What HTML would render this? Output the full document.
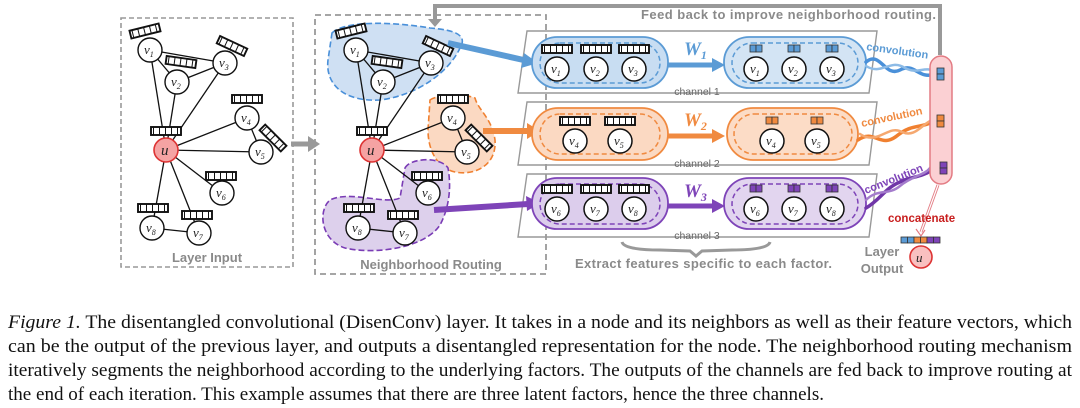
<!DOCTYPE html>
<html><head><meta charset="utf-8"><style>
html,body{margin:0;padding:0;background:#fff;}
svg{display:block;}
.lbl{font-family:"Liberation Sans",sans-serif;font-weight:bold;fill:#8a8a8a;}
.nv{font-family:"Liberation Serif",serif;font-style:italic;font-size:13px;fill:#222;}
.cap{font-family:"Liberation Serif",serif;font-size:19px;fill:#111;}
</style></head><body>
<svg width="1080" height="408" viewBox="0 0 1080 408" xmlns="http://www.w3.org/2000/svg">
<defs>
<pattern id="cells" x="0" y="0" width="6" height="8" patternUnits="userSpaceOnUse">
<rect width="6" height="8" fill="#fff"/><rect x="5" width="1.6" height="8" fill="#111"/>
</pattern>
<g id="bar"><rect x="-15" y="-4" width="30" height="8" fill="url(#cells)" stroke="#111" stroke-width="1.9"/></g>
</defs>

<!-- Layer Input box -->
<rect x="121" y="18" width="172" height="249" fill="none" stroke="#999" stroke-width="1.6" stroke-dasharray="5,3"/>
<text class="lbl" x="207" y="262" font-size="13" text-anchor="middle">Layer Input</text>

<g stroke="#111" stroke-width="1.3">
<line x1="150" y1="50" x2="166" y2="150"/><line x1="150" y1="50" x2="177" y2="82"/><line x1="150" y1="50" x2="225" y2="63"/>
<line x1="177" y1="82" x2="166" y2="150"/><line x1="177" y1="82" x2="225" y2="63"/><line x1="225" y1="63" x2="166" y2="150"/>
<line x1="166" y1="150" x2="247" y2="118"/><line x1="166" y1="150" x2="261" y2="152"/><line x1="247" y1="118" x2="261" y2="152"/>
<line x1="166" y1="150" x2="222" y2="193"/><line x1="166" y1="150" x2="152" y2="228"/><line x1="166" y1="150" x2="199" y2="233"/>
<line x1="152" y1="228" x2="199" y2="233"/>
</g>
<g fill="#fff" stroke="#111" stroke-width="1.4">
<circle cx="150" cy="50" r="12"/><circle cx="177" cy="82" r="12"/><circle cx="225" cy="63" r="12"/>
<circle cx="247" cy="118" r="12"/><circle cx="261" cy="152" r="12"/><circle cx="222" cy="193" r="12"/>
<circle cx="152" cy="228" r="12"/><circle cx="199" cy="233" r="12"/>
</g>
<circle cx="166" cy="150" r="12" fill="#f5a3a3" stroke="#d33" stroke-width="1.6"/>
<use href="#bar" transform="translate(145,31) rotate(-14)"/><use href="#bar" transform="translate(181,62) rotate(8)"/>
<use href="#bar" transform="translate(232,46) rotate(25)"/><use href="#bar" transform="translate(247,99)"/>
<use href="#bar" transform="translate(273,138) rotate(45)"/><use href="#bar" transform="translate(166,131)"/>
<use href="#bar" transform="translate(221,176)"/><use href="#bar" transform="translate(153,208)"/><use href="#bar" transform="translate(197,215)"/>
<g class="nv">
<text x="144" y="54">v<tspan font-size="8" dy="3">1</tspan></text><text x="171" y="86">v<tspan font-size="8" dy="3">2</tspan></text>
<text x="219" y="67">v<tspan font-size="8" dy="3">3</tspan></text><text x="241" y="122">v<tspan font-size="8" dy="3">4</tspan></text>
<text x="255" y="156">v<tspan font-size="8" dy="3">5</tspan></text><text x="216" y="197">v<tspan font-size="8" dy="3">6</tspan></text>
<text x="146" y="232">v<tspan font-size="8" dy="3">8</tspan></text><text x="193" y="237">v<tspan font-size="8" dy="3">7</tspan></text>
<text x="161" y="155" font-size="15">u</text>
</g>

<line x1="291" y1="144" x2="310" y2="144" stroke="#999" stroke-width="5"/>
<path d="M308,136 L320,144 L308,152z" fill="#999"/>

<rect x="315" y="15" width="231" height="259" fill="none" stroke="#999" stroke-width="1.8" stroke-dasharray="6,4"/>
<text class="lbl" x="431" y="269" font-size="13" text-anchor="middle">Neighborhood Routing</text>

<path d="M332,33 C345,20 395,22 430,28 C455,30 468,35 460,48 C450,70 420,95 380,100 C345,102 325,85 328,60 Z" fill="#cfe0f3" stroke="#4a90d9" stroke-width="1.6" stroke-dasharray="6,3"/>
<path d="M430,100 C440,93 470,95 475,98 C478,110 492,118 495,140 C497,165 475,176 455,172 C437,168 428,150 428,130 Z" fill="#fbd9c2" stroke="#f08030" stroke-width="1.6" stroke-dasharray="6,3"/>
<path d="M405,168 C410,158 440,156 448,168 C452,190 448,210 440,225 C425,248 375,255 345,248 C320,240 318,210 330,200 C350,190 385,205 400,198 Z" fill="#ddd0ec" stroke="#7a3cb5" stroke-width="1.6" stroke-dasharray="6,3"/>

<g transform="translate(206,0)">
<g stroke="#111" stroke-width="1.3">
<line x1="150" y1="50" x2="166" y2="150"/><line x1="150" y1="50" x2="177" y2="82"/><line x1="150" y1="50" x2="225" y2="63"/>
<line x1="177" y1="82" x2="166" y2="150"/><line x1="177" y1="82" x2="225" y2="63"/><line x1="225" y1="63" x2="166" y2="150"/>
<line x1="166" y1="150" x2="247" y2="118"/><line x1="166" y1="150" x2="261" y2="152"/><line x1="247" y1="118" x2="261" y2="152"/>
<line x1="166" y1="150" x2="222" y2="193"/><line x1="166" y1="150" x2="152" y2="228"/><line x1="166" y1="150" x2="199" y2="233"/>
<line x1="152" y1="228" x2="199" y2="233"/>
</g>
<g fill="#fff" stroke="#111" stroke-width="1.4">
<circle cx="150" cy="50" r="12"/><circle cx="177" cy="82" r="12"/><circle cx="225" cy="63" r="12"/>
<circle cx="247" cy="118" r="12"/><circle cx="261" cy="152" r="12"/><circle cx="222" cy="193" r="12"/>
<circle cx="152" cy="228" r="12"/><circle cx="199" cy="233" r="12"/>
</g>
<circle cx="166" cy="150" r="12" fill="#f5a3a3" stroke="#d33" stroke-width="1.6"/>
<use href="#bar" transform="translate(145,31) rotate(-14)"/><use href="#bar" transform="translate(181,62) rotate(8)"/>
<use href="#bar" transform="translate(232,46) rotate(25)"/><use href="#bar" transform="translate(247,99)"/>
<use href="#bar" transform="translate(273,138) rotate(45)"/><use href="#bar" transform="translate(166,131)"/>
<use href="#bar" transform="translate(221,176)"/><use href="#bar" transform="translate(153,208)"/><use href="#bar" transform="translate(197,215)"/>
<g class="nv">
<text x="144" y="54">v<tspan font-size="8" dy="3">1</tspan></text><text x="171" y="86">v<tspan font-size="8" dy="3">2</tspan></text>
<text x="219" y="67">v<tspan font-size="8" dy="3">3</tspan></text><text x="241" y="122">v<tspan font-size="8" dy="3">4</tspan></text>
<text x="255" y="156">v<tspan font-size="8" dy="3">5</tspan></text><text x="216" y="197">v<tspan font-size="8" dy="3">6</tspan></text>
<text x="146" y="232">v<tspan font-size="8" dy="3">8</tspan></text><text x="193" y="237">v<tspan font-size="8" dy="3">7</tspan></text>
<text x="161" y="155" font-size="15">u</text>
</g>
</g>

<path d="M940,55 L940,6 L435,6 L435,20" fill="none" stroke="#999" stroke-width="4"/>
<path d="M428,19 L442,19 L435,27z" fill="#999"/>
<text class="lbl" x="641" y="19" font-size="13" textLength="295">Feed back to improve neighborhood routing.</text>

<g fill="none" stroke="#999" stroke-width="1.4">
<path d="M527,31 L877,31 L869,93 L518,93Z"/>
<path d="M527,102 L877,102 L869,165 L518,165Z"/>
<path d="M527,174 L877,174 L869,237 L518,237Z"/>
</g>
<g font-family="Liberation Sans,sans-serif" font-size="10.5" fill="#666" text-anchor="middle">
<text x="697" y="95">channel 1</text><text x="697" y="167">channel 2</text><text x="697" y="239">channel 3</text>
</g>

<line x1="448" y1="43" x2="528" y2="61" stroke="#5b9bd5" stroke-width="6"/><path d="M524,53 L538,63 L521,68z" fill="#5b9bd5"/>
<line x1="483" y1="131" x2="528" y2="131" stroke="#f08a40" stroke-width="6"/><path d="M527,123 L540,131 L527,139z" fill="#f08a40"/>
<line x1="434" y1="210" x2="528" y2="204" stroke="#7e44b8" stroke-width="6"/><path d="M526,196 L540,203 L527,211z" fill="#7e44b8"/>

<g>
<rect x="532" y="37" width="136" height="51" rx="25" fill="#c8ddf2" stroke="#5b9bd5" stroke-width="1.8"/>
<rect x="540" y="43" width="120" height="40" rx="20" fill="none" stroke="#5b9bd5" stroke-width="1.5" stroke-dasharray="5,3"/>
<rect x="724" y="37" width="142" height="51" rx="25" fill="#d3e4f4" stroke="#5b9bd5" stroke-width="1.8"/>
<rect x="732" y="43" width="126" height="40" rx="20" fill="none" stroke="#5b9bd5" stroke-width="1.5" stroke-dasharray="5,3"/>
<line x1="668" y1="65" x2="714" y2="65" stroke="#5b9bd5" stroke-width="5"/><path d="M712,58 L725,65 L712,72z" fill="#5b9bd5"/>
<text x="684" y="55" font-family="Liberation Serif,serif" font-style="italic" font-weight="bold" font-size="19" fill="#5b9bd5">W<tspan font-size="12" dy="4">1</tspan></text>
</g>
<g>
<rect x="532" y="108" width="136" height="52" rx="26" fill="#fbd9c2" stroke="#f08a40" stroke-width="1.8"/>
<rect x="540" y="114" width="120" height="40" rx="20" fill="none" stroke="#f08a40" stroke-width="1.5" stroke-dasharray="5,3"/>
<rect x="727" y="108" width="131" height="52" rx="26" fill="#fcdcc6" stroke="#f08a40" stroke-width="1.8"/>
<rect x="734" y="114" width="118" height="40" rx="20" fill="none" stroke="#f08a40" stroke-width="1.5" stroke-dasharray="5,3"/>
<line x1="668" y1="136" x2="714" y2="136" stroke="#f08a40" stroke-width="5"/><path d="M712,129 L725,136 L712,143z" fill="#f08a40"/>
<text x="684" y="126" font-family="Liberation Serif,serif" font-style="italic" font-weight="bold" font-size="19" fill="#f08a40">W<tspan font-size="12" dy="4">2</tspan></text>
</g>
<g>
<rect x="532" y="178" width="136" height="51" rx="25" fill="#dccdec" stroke="#7e44b8" stroke-width="1.8"/>
<rect x="540" y="184" width="120" height="40" rx="20" fill="none" stroke="#7e44b8" stroke-width="1.5" stroke-dasharray="5,3"/>
<rect x="724" y="178" width="142" height="51" rx="25" fill="#e2d5ef" stroke="#7e44b8" stroke-width="1.8"/>
<rect x="732" y="184" width="126" height="40" rx="20" fill="none" stroke="#7e44b8" stroke-width="1.5" stroke-dasharray="5,3"/>
<line x1="668" y1="206" x2="714" y2="206" stroke="#7e44b8" stroke-width="5"/><path d="M712,199 L725,206 L712,213z" fill="#7e44b8"/>
<text x="684" y="197" font-family="Liberation Serif,serif" font-style="italic" font-weight="bold" font-size="19" fill="#7e44b8">W<tspan font-size="12" dy="4">3</tspan></text>
</g>

<g fill="#fff" stroke="#111" stroke-width="1.5">
<circle cx="557" cy="69" r="12"/><circle cx="596" cy="69" r="12"/><circle cx="634" cy="69" r="12"/>
<circle cx="756" cy="69" r="12"/><circle cx="794" cy="69" r="12"/><circle cx="832" cy="69" r="12"/>
<circle cx="575" cy="141" r="12"/><circle cx="620" cy="141" r="12"/>
<circle cx="772" cy="141" r="12"/><circle cx="817" cy="141" r="12"/>
<circle cx="557" cy="209" r="12"/><circle cx="596" cy="209" r="12"/><circle cx="634" cy="209" r="12"/>
<circle cx="756" cy="209" r="12"/><circle cx="794" cy="209" r="12"/><circle cx="832" cy="209" r="12"/>
</g>
<use href="#bar" transform="translate(557,49)"/><use href="#bar" transform="translate(596,49)"/><use href="#bar" transform="translate(634,49)"/>
<use href="#bar" transform="translate(575,121)"/><use href="#bar" transform="translate(620,121)"/>
<use href="#bar" transform="translate(557,189)"/><use href="#bar" transform="translate(596,189)"/><use href="#bar" transform="translate(634,189)"/>
<g stroke="#333" stroke-width="0.8">
<g fill="#5b9bd5"><rect x="750" y="45" width="6" height="7"/><rect x="756" y="45" width="6" height="7"/><rect x="788" y="45" width="6" height="7"/><rect x="794" y="45" width="6" height="7"/><rect x="826" y="45" width="6" height="7"/><rect x="832" y="45" width="6" height="7"/></g>
<g fill="#f08a40"><rect x="766" y="117" width="6" height="7"/><rect x="772" y="117" width="6" height="7"/><rect x="811" y="117" width="6" height="7"/><rect x="817" y="117" width="6" height="7"/></g>
<g fill="#7e44b8"><rect x="750" y="185" width="6" height="7"/><rect x="756" y="185" width="6" height="7"/><rect x="788" y="185" width="6" height="7"/><rect x="794" y="185" width="6" height="7"/><rect x="826" y="185" width="6" height="7"/><rect x="832" y="185" width="6" height="7"/></g>
</g>
<g class="nv">
<text x="551" y="73">v<tspan font-size="8" dy="3">1</tspan></text><text x="590" y="73">v<tspan font-size="8" dy="3">2</tspan></text><text x="628" y="73">v<tspan font-size="8" dy="3">3</tspan></text>
<text x="750" y="73">v<tspan font-size="8" dy="3">1</tspan></text><text x="788" y="73">v<tspan font-size="8" dy="3">2</tspan></text><text x="826" y="73">v<tspan font-size="8" dy="3">3</tspan></text>
<text x="569" y="145">v<tspan font-size="8" dy="3">4</tspan></text><text x="614" y="145">v<tspan font-size="8" dy="3">5</tspan></text>
<text x="766" y="145">v<tspan font-size="8" dy="3">4</tspan></text><text x="811" y="145">v<tspan font-size="8" dy="3">5</tspan></text>
<text x="551" y="213">v<tspan font-size="8" dy="3">6</tspan></text><text x="590" y="213">v<tspan font-size="8" dy="3">7</tspan></text><text x="628" y="213">v<tspan font-size="8" dy="3">8</tspan></text>
<text x="750" y="213">v<tspan font-size="8" dy="3">6</tspan></text><text x="788" y="213">v<tspan font-size="8" dy="3">7</tspan></text><text x="826" y="213">v<tspan font-size="8" dy="3">8</tspan></text>
</g>

<g fill="none" stroke-width="3.5" stroke-linecap="round">
<path d="M866,62 C880,50 885,78 900,70 C915,62 918,80 935,74" stroke="#4a90d9"/>
<path d="M866,66 C882,76 890,58 905,68 C918,75 925,65 935,72" stroke="#8dbbe6" stroke-width="2.5"/>
<path d="M858,140 C875,128 880,150 898,135 C912,124 922,128 932,122" stroke="#f08030"/>
<path d="M860,134 C878,146 888,124 902,132 C915,138 922,124 932,120" stroke="#f5a870" stroke-width="2.5"/>
<path d="M866,208 C880,200 885,188 900,182 C912,176 920,178 932,170" stroke="#7036a8"/>
<path d="M866,200 C878,188 888,196 900,186 C912,176 925,175 930,168" stroke="#a47ccc" stroke-width="2.5"/>
</g>
<g font-family="Liberation Sans,sans-serif" font-weight="bold" font-size="11">
<text x="866" y="50" fill="#5b9bd5" transform="rotate(8 866 50)">convolution</text>
<text x="862" y="127" fill="#f08a40" transform="rotate(-12 862 127)">convolution</text>
<text x="866" y="194" fill="#7e44b8" transform="rotate(-22 866 194)">convolution</text>
</g>

<rect x="930" y="56" width="22" height="128" rx="11" fill="#fbd0d3" stroke="#e37b83" stroke-width="1.5"/>
<g stroke="#333" stroke-width="0.8">
<rect x="937" y="68" width="7" height="6" fill="#5b9bd5"/><rect x="937" y="74" width="7" height="6" fill="#5b9bd5"/>
<rect x="937" y="115" width="7" height="6" fill="#f08a40"/><rect x="937" y="121" width="7" height="6" fill="#f08a40"/>
<rect x="940" y="162" width="7" height="6" fill="#7e44b8"/><rect x="940" y="168" width="7" height="6" fill="#7e44b8"/>
</g>
<path d="M938,185 L921,232" stroke="#e37b83" stroke-width="3"/><path d="M938,185 L921,232" stroke="#fff" stroke-width="1.2"/>
<path d="M916,229 L921,236 L925,230" fill="none" stroke="#e37b83" stroke-width="1.2"/>
<text x="888" y="222" font-family="Liberation Sans,sans-serif" font-weight="bold" font-size="11.5" fill="#c81e1e">concatenate</text>
<g stroke="#333" stroke-width="0.8">
<rect x="901" y="237" width="6.5" height="6" fill="#5b9bd5"/><rect x="907.5" y="237" width="6.5" height="6" fill="#5b9bd5"/>
<rect x="914" y="237" width="6.5" height="6" fill="#f08a40"/><rect x="920.5" y="237" width="6.5" height="6" fill="#f08a40"/>
<rect x="927" y="237" width="6.5" height="6" fill="#7e44b8"/><rect x="933.5" y="237" width="6.5" height="6" fill="#7e44b8"/>
</g>
<circle cx="921" cy="257" r="11" fill="#f9c0c0" stroke="#d33" stroke-width="1.6"/>
<text x="916" y="262" class="nv" font-size="15">u</text>
<text class="lbl" x="882" y="256" font-size="13" text-anchor="middle">Layer</text>
<text class="lbl" x="882" y="273" font-size="13" text-anchor="middle">Output</text>

<path d="M622,242 Q624,250 660,250 L690,251 L696,256 L702,251 L732,250 Q768,250 770,242" fill="none" stroke="#999" stroke-width="3"/>
<text class="lbl" x="575" y="268" font-size="13" textLength="257">Extract features specific to each factor.</text>

<g class="cap">
<text x="8" y="328" textLength="1064" lengthAdjust="spacingAndGlyphs"><tspan font-style="italic">Figure 1.</tspan> The disentangled convolutional (DisenConv) layer. It takes in a node and its neighbors as well as their feature vectors, which</text>
<text x="8" y="352" textLength="1064" lengthAdjust="spacingAndGlyphs">can be the output of the previous layer, and outputs a disentangled representation for the node. The neighborhood routing mechanism</text>
<text x="8" y="376" textLength="1064" lengthAdjust="spacingAndGlyphs">iteratively segments the neighborhood according to the underlying factors. The outputs of the channels are fed back to improve routing at</text>
<text x="8" y="400" textLength="816" lengthAdjust="spacingAndGlyphs">the end of each iteration. This example assumes that there are three latent factors, hence the three channels.</text>
</g>
</svg>
</body></html>
